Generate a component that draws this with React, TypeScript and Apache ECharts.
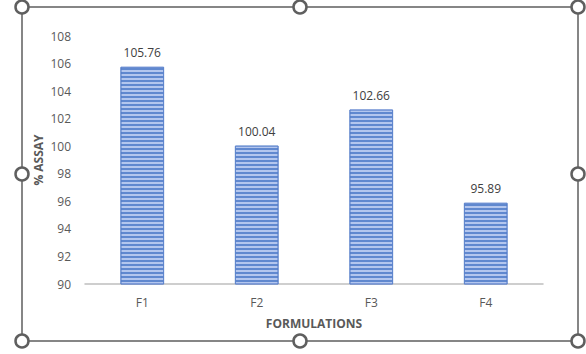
import React, { useEffect, useRef } from "react";
import * as echarts from "echarts";

const categories = ["F1", "F2", "F3", "F4"];
const assayValues = [105.76, 100.04, 102.66, 95.89];
const yMin = 90;
const yMax = 108;
const yStep = 2;
const yTitle = "% ASSAY";
const xTitle = "FORMULATIONS";

const handlePoints: [number, number][] = [
  [22, 7], [300, 7], [578, 7],
  [22, 174], [578, 174],
  [22, 341], [300, 341], [578, 341],
];

export default function App() {
  const ref = useRef<HTMLDivElement>(null);
  useEffect(() => {
    if (!ref.current) return;
    const chart = echarts.init(ref.current, null, { renderer: "svg" });
    const font = "'Open Sans', 'Liberation Sans', sans-serif";
    chart.setOption({
      animation: false,
      backgroundColor: "#ffffff",
      grid: { left: 85, right: 43, top: 36, bottom: 70 },
      xAxis: {
        type: "category",
        data: categories,
        axisLine: { show: true, lineStyle: { color: "#bfbfbf", width: 1.5 } },
        axisTick: { show: false },
        axisLabel: { color: "#595959", fontSize: 12, fontFamily: font, margin: 12 },
      },
      yAxis: {
        type: "value",
        min: yMin,
        max: yMax,
        interval: yStep,
        splitLine: { show: false },
        axisLine: { show: false },
        axisTick: { show: false },
        axisLabel: { color: "#595959", fontSize: 12, fontFamily: font, margin: 14 },
      },
      series: [
        {
          type: "bar",
          data: assayValues,
          barWidth: "38%",
          itemStyle: {
            color: "#b3c6ee",
            borderColor: "#5b82cc",
            borderWidth: 0.8,
            decal: {
              symbol: "rect",
              symbolSize: 1,
              dashArrayX: [[1, 0]],
              dashArrayY: [2, 1.5],
              rotation: 0,
              color: "rgba(68,114,196,0.75)",
            },
          },
          label: {
            show: true,
            position: "top",
            distance: 8,
            color: "#404040",
            fontSize: 12,
            fontFamily: font,
            formatter: (p: any) => p.value.toFixed(2),
          },
        },
      ],
      graphic: [
        {
          type: "text",
          x: 38,
          y: 160,
          rotation: Math.PI / 2,
          style: {
            text: yTitle,
            fill: "#595959",
            fontSize: 12,
            fontWeight: "bold",
            fontFamily: font,
            textAlign: "center",
            textVerticalAlign: "middle",
          },
        },
        {
          type: "text",
          x: 314,
          y: 323,
          style: {
            text: xTitle,
            fill: "#595959",
            fontSize: 12,
            fontWeight: "bold",
            fontFamily: font,
            textAlign: "center",
            textVerticalAlign: "middle",
          },
        },
        {
          type: "rect",
          shape: { x: 22, y: 7, width: 556, height: 334 },
          style: { fill: "none", stroke: "#5f5f5f", lineWidth: 1.5 },
          z: 100,
        },
        ...handlePoints.map(([x, y]) => ({
          type: "circle",
          shape: { cx: x, cy: y, r: 6.5 },
          style: { fill: "#ffffff", stroke: "#5f5f5f", lineWidth: 2.5 },
          z: 101,
        })),
      ],
    });
    return () => chart.dispose();
  }, []);
  return (
    <div
      ref={ref}
      style={{ position: "fixed", left: 0, top: 0, width: 586, height: 354 }}
    />
  );
}
